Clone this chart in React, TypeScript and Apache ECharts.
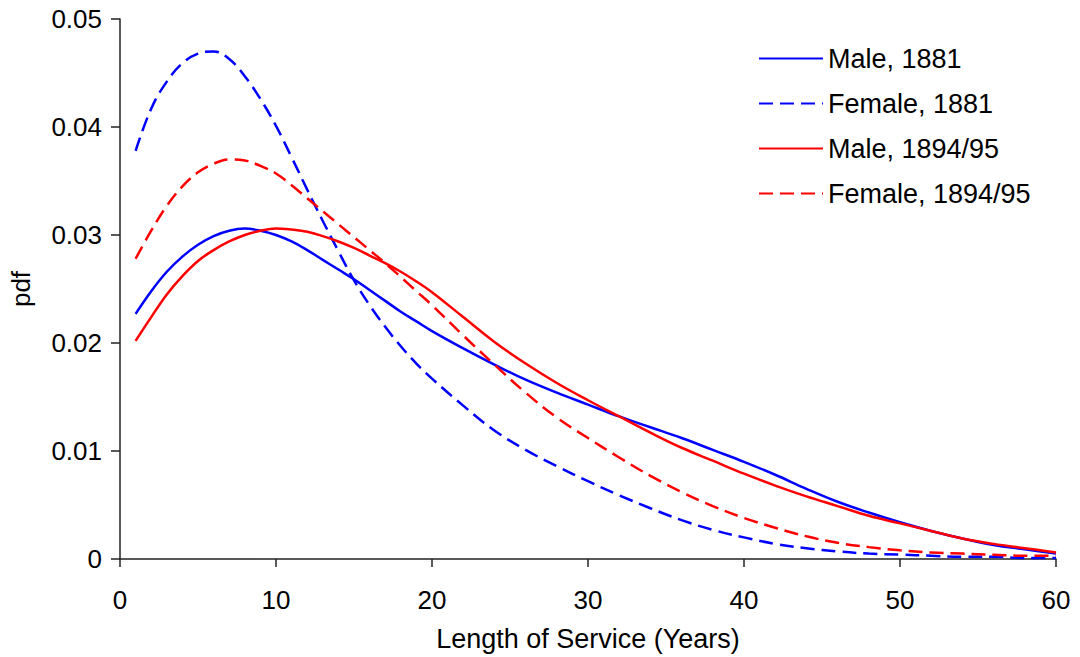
import React, { useEffect, useRef } from "react";
import * as echarts from "echarts";

const years = [1, 2, 3, 4, 5, 6, 7, 8, 9, 10, 11, 12, 13, 14, 15, 16, 17, 18, 19, 20, 22, 24, 26, 28, 30, 32, 34, 36, 38, 40, 42, 44, 46, 48, 50, 52, 54, 56, 58, 60];

const male1881 = [0.0227, 0.0248, 0.0266, 0.0280, 0.0291, 0.0299, 0.0304, 0.0306, 0.0304, 0.0300, 0.0294, 0.0286, 0.0277, 0.0268, 0.0259, 0.0249, 0.0239, 0.0229, 0.0220, 0.0211, 0.0195, 0.0180, 0.0166, 0.0154, 0.0143, 0.0132, 0.0122, 0.0112, 0.0101, 0.0090, 0.0078, 0.0065, 0.0053, 0.0043, 0.0034, 0.0026, 0.0019, 0.0013, 0.0009, 0.0005];

const female1881 = [0.0378, 0.0417, 0.0442, 0.0459, 0.0468, 0.0470, 0.0463, 0.0447, 0.0426, 0.0401, 0.0372, 0.0342, 0.0313, 0.0285, 0.0258, 0.0235, 0.0215, 0.0197, 0.0181, 0.0167, 0.0142, 0.0119, 0.0101, 0.0086, 0.0072, 0.0059, 0.0047, 0.0036, 0.0027, 0.0020, 0.0014, 0.0010, 0.0007, 0.0005, 0.0004, 0.0003, 0.0002, 0.0002, 0.0001, 0.0001];

const male1894 = [0.0202, 0.0224, 0.0245, 0.0262, 0.0276, 0.0286, 0.0294, 0.0300, 0.0304, 0.0306, 0.0305, 0.0303, 0.0299, 0.0294, 0.0288, 0.0281, 0.0274, 0.0266, 0.0257, 0.0247, 0.0224, 0.0201, 0.0181, 0.0163, 0.0147, 0.0132, 0.0117, 0.0103, 0.0091, 0.0079, 0.0068, 0.0058, 0.0049, 0.0040, 0.0033, 0.0026, 0.0019, 0.0014, 0.0010, 0.0006];

const female1894 = [0.0278, 0.0304, 0.0327, 0.0345, 0.0358, 0.0366, 0.0370, 0.0369, 0.0364, 0.0357, 0.0346, 0.0334, 0.0322, 0.0310, 0.0298, 0.0286, 0.0274, 0.0261, 0.0248, 0.0235, 0.0207, 0.0180, 0.0154, 0.0131, 0.0112, 0.0094, 0.0077, 0.0062, 0.0049, 0.0038, 0.0029, 0.0021, 0.0015, 0.0011, 0.0008, 0.0006, 0.0005, 0.0004, 0.0003, 0.0003];

const seriesNames = ["Male, 1881", "Female, 1881", "Male, 1894/95", "Female, 1894/95"];

const FONT = "'Liberation Sans', Arial, sans-serif";

export default function App() {
  const ref = useRef<HTMLDivElement>(null);

  useEffect(() => {
    document.body.style.margin = "0";
    if (!ref.current) return;
    const chart = echarts.init(ref.current, undefined, { renderer: "svg" });
    const pair = (vals: number[]) => years.map((x, i) => [x, vals[i]]);
    const mk = (name: string, vals: number[], color: string, dashed: boolean) => ({
      name,
      type: "line",
      data: pair(vals),
      smooth: 0.4,
      symbol: "none",
      lineStyle: { color, width: 2.5, type: dashed ? [14, 7] : "solid" },
      itemStyle: { color },
    });
    chart.setOption({
      animation: false,
      backgroundColor: "#ffffff",
      grid: { left: 120, right: 24, top: 19, bottom: 95, containLabel: false },
      legend: {
        orient: "vertical",
        left: 753,
        top: 40,
        itemWidth: 64,
        itemHeight: 14,
        itemGap: 18,
        data: seriesNames,
        itemStyle: { opacity: 0 },
        textStyle: { fontFamily: FONT, fontSize: 27, color: "#000", padding: [12, 0, 0, 0] },
      },
      xAxis: {
        type: "value",
        min: 0,
        max: 60,
        interval: 10,
        name: "Length of Service (Years)",
        nameLocation: "middle",
        nameGap: 66,
        nameTextStyle: { fontFamily: FONT, fontSize: 27, color: "#000" },
        axisLine: { lineStyle: { color: "#222", width: 1.5 } },
        axisTick: { show: true, inside: false, length: 8, lineStyle: { color: "#222", width: 1.5 } },
        axisLabel: { fontFamily: FONT, fontSize: 26, color: "#000", margin: 28 },
        splitLine: { show: false },
      },
      yAxis: {
        type: "value",
        min: 0,
        max: 0.05,
        interval: 0.01,
        name: "pdf",
        nameLocation: "middle",
        nameRotate: 90,
        nameGap: 86,
        nameTextStyle: { fontFamily: FONT, fontSize: 26, color: "#000" },
        axisLine: { show: true, lineStyle: { color: "#222", width: 1.5 } },
        axisTick: { show: true, inside: false, length: 9, lineStyle: { color: "#222", width: 1.5 } },
        axisLabel: {
          fontFamily: FONT,
          fontSize: 26,
          color: "#000",
          margin: 18,
          formatter: (v: number) => (v === 0 ? "0" : v.toFixed(2)),
        },
        splitLine: { show: false },
      },
      series: [
        mk(seriesNames[0], male1881, "#0000ff", false),
        mk(seriesNames[1], female1881, "#0000ff", true),
        mk(seriesNames[2], male1894, "#ff0000", false),
        mk(seriesNames[3], female1894, "#ff0000", true),
      ],
    });
    return () => chart.dispose();
  }, []);

  return <div ref={ref} style={{ width: 1080, height: 657 }} />;
}
